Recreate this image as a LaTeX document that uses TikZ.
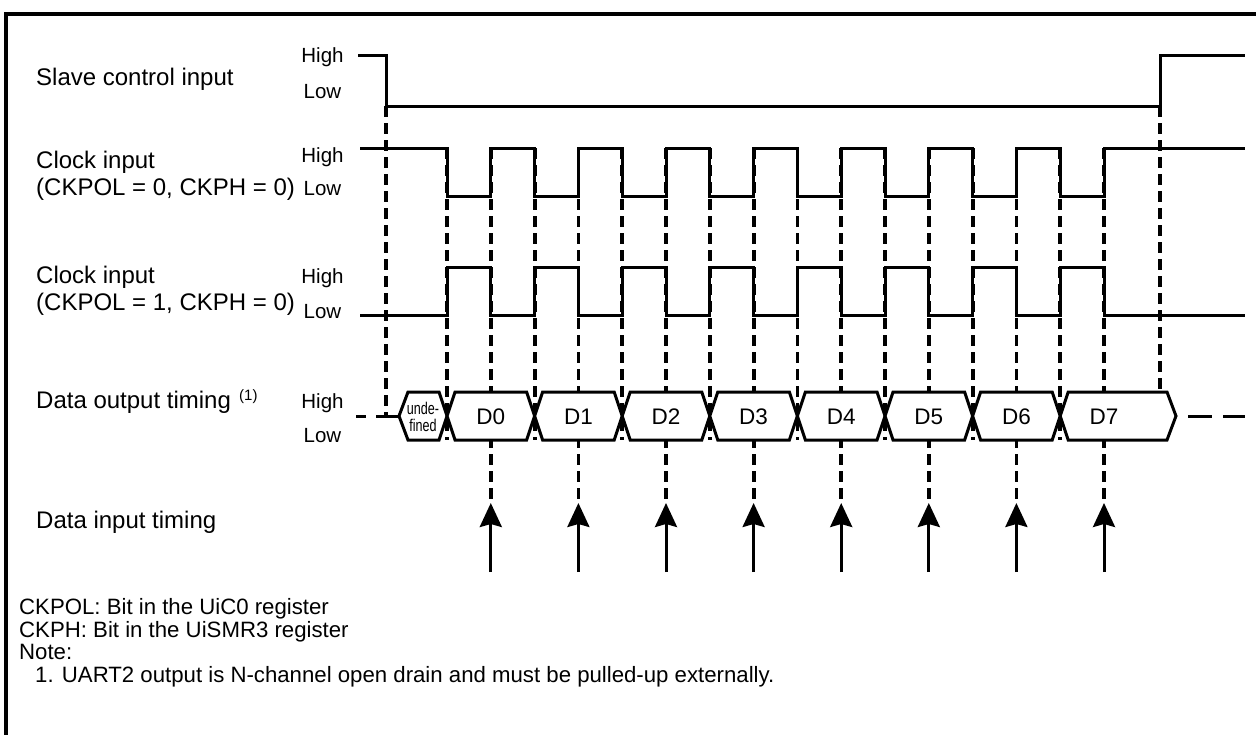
\documentclass[tikz,border=0pt]{standalone}
\usepackage{fontspec}
\setmainfont{Liberation Sans}
\usetikzlibrary{arrows.meta}
\tikzset{
  sig/.style={line width=3pt, line join=miter},
  guide/.style={line width=3.8pt, dash pattern=on 11pt off 6pt},
  frameline/.style={line width=4pt},
  hexbox/.style={line width=3pt, fill=white, line join=miter},
  samplearrow/.style={line width=3pt, -{Stealth[length=24pt,width=22pt,inset=3pt]}},
  rowlabel/.style={anchor=base west, inner sep=0pt, font=\fontsize{24}{28}\selectfont},
  levellabel/.style={anchor=base, inner sep=0pt, font=\fontsize{20.5}{24}\selectfont},
  datalabel/.style={anchor=base, inner sep=0pt, font=\fontsize{22.5}{26}\selectfont},
  notelabel/.style={anchor=base west, inner sep=0pt, font=\fontsize{22.2}{26}\selectfont},
}
\begin{document}
\begin{tikzpicture}[x=1pt,y=-1pt]
\useasboundingbox (0,0) rectangle (1256,734);
% frame
\draw[frameline] (6,736) -- (6,14) -- (1258,14);

% row labels
\node[rowlabel] (slv) at (36,85) {Slave control input};
\node[levellabel] (slvH) at (322.5,62) {High};
\node[levellabel] (slvL) at (322.5,98) {Low};

\node[rowlabel] (ck0a) at (36,168) {Clock input};
\node[rowlabel] (ck0b) at (36,195) {(CKPOL = 0, CKPH = 0)};
\node[levellabel] (ck0H) at (322.5,162) {High};
\node[levellabel] (ck0L) at (322.5,195) {Low};

\node[rowlabel] (ck1a) at (36,283) {Clock input};
\node[rowlabel] (ck1b) at (36,310) {(CKPOL = 1, CKPH = 0)};
\node[levellabel] (ck1H) at (322.5,283) {High};
\node[levellabel] (ck1L) at (322.5,318) {Low};

\node[rowlabel] (dout) at (36,408) {Data output timing};
\node[anchor=base west, inner sep=0pt, font=\fontsize{15}{18}\selectfont] (doutsup) at (239,400) {(1)};
\node[levellabel] (doH) at (322.5,408) {High};
\node[levellabel] (doL) at (322.5,442) {Low};

\node[rowlabel] (din) at (36,528) {Data input timing};

% notes
\node[notelabel] (n1) at (19,614) {CKPOL: Bit in the UiC0 register};
\node[notelabel] (n2) at (19,637) {CKPH: Bit in the UiSMR3 register};
\node[notelabel] (n3) at (19,659) {Note:};
\node[notelabel] (n4) at (35,682) {1. UART2 output is N-channel open drain and must be pulled-up externally.};

% guide lines (dashed)
\draw[guide] (386,106) -- (386,416);
\draw[guide] (1160,106) -- (1160,392);
\foreach \i in {0,...,7}{
  \draw[guide] ({447+87.6*\i},148) -- ({447+87.6*\i},440);
  \draw[guide] ({490.8+87.6*\i},148) -- ({490.8+87.6*\i},503);
}

% slave control input
\draw[sig] (358,55) -- (386,55) -- (386,106) -- (1160,106) -- (1160,55) -- (1245,55);

% clock CKPOL=0
\draw[sig] (360,148)
  \foreach \i in {0,...,7}{
    -- ({447+87.6*\i},148) -- ({447+87.6*\i},196)
    -- ({490.8+87.6*\i},196) -- ({490.8+87.6*\i},148)
  } -- (1245,148);

% clock CKPOL=1
\draw[sig] (360,315)
  \foreach \i in {0,...,7}{
    -- ({447+87.6*\i},315) -- ({447+87.6*\i},267)
    -- ({490.8+87.6*\i},267) -- ({490.8+87.6*\i},315)
  } -- (1245,315);

% data output
\draw[sig] (356,416) -- (366,416);
\draw[sig] (376,416) -- (399,416);
\draw[hexbox] (399,416) -- (408,392) -- (439,392) -- (447,416) -- (439,440) -- (408,440) -- cycle;
\node[align=center, inner sep=0pt, font=\fontsize{17}{17}\selectfont] (undef) at (423,416.5)
  {\scalebox{0.74}[1]{unde-}\\\scalebox{0.74}[1]{fined}};
\foreach \i in {0,...,6}{
  \draw[hexbox] ({447+87.6*\i},416) -- ({455+87.6*\i},392) -- ({526.6+87.6*\i},392)
    -- ({534.6+87.6*\i},416) -- ({526.6+87.6*\i},440) -- ({455+87.6*\i},440) -- cycle;
  \node[datalabel] (d\i) at ({490.8+87.6*\i},424) {D\i};
}
\draw[hexbox] (1060.2,416) -- (1068.2,392) -- (1167,392) -- (1176,416) -- (1167,440) -- (1068.2,440) -- cycle;
\node[datalabel] (d7) at (1104,424) {D7};
\draw[sig] (1188,416) -- (1212,416);
\draw[sig] (1223,416) -- (1245,416);

% sampling arrows
\foreach \i in {0,...,7}{
  \coordinate (as\i) at ({490.8+87.6*\i},572);
  \coordinate (at\i) at ({490.8+87.6*\i},503);
  \draw[samplearrow] (as\i) -- (at\i);
}
\end{tikzpicture}
\end{document}
